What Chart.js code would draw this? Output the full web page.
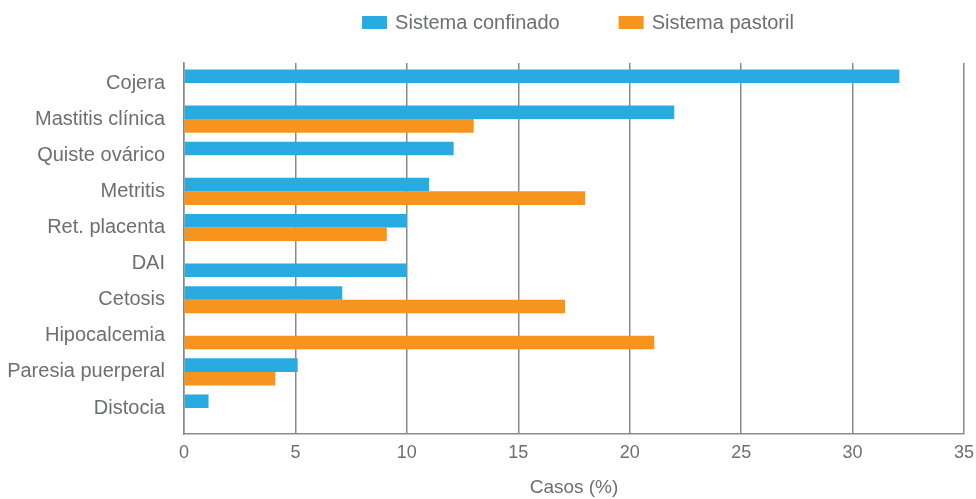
<!DOCTYPE html>
<html>
<head>
<meta charset="utf-8">
<script src="https://cdn.jsdelivr.net/npm/chart.js@4"></script>
<style>
html,body{margin:0;padding:0;background:#fff;}
#wrap{width:976px;height:499px;}
</style>
</head>
<body>
<div id="wrap"><canvas id="chart" width="976" height="499"></canvas></div>
<script>
const categories = ["Cojera","Mastitis clínica","Quiste ovárico","Metritis","Ret. placenta","DAI","Cetosis","Hipocalcemia","Paresia puerperal","Distocia"];
const confinado = [32.1, 22.0, 12.1, 11.0, 10.0, 10.0, 7.1, null, 5.1, 1.1];
const pastoril = [null, 13.0, null, 18.0, 9.1, null, 17.1, 21.1, 4.1, null];
// in the original the DAI bar of confinado sits in the lower slot
const lowerSlot = ["DAI"];
const xTicks = [0,5,10,15,20,25,30,35];

const BLUE = "#29abe2";
const ORANGE = "#f7941d";
const TEXT = "#6d6e71";
const GRID = "#8a8a8a";
const FONT = "'Liberation Sans', Arial, sans-serif";

function pts(vals, keep){
  const out = [];
  vals.forEach((v,i)=>{
    if(v !== null && keep(categories[i])) out.push({x:v, y:i});
  });
  return out;
}

const datasets = [
  {label:"Sistema confinado", data:pts(confinado, c=>!lowerSlot.includes(c)), backgroundColor:BLUE, stack:"a"},
  {label:"Sistema pastoril", data:pts(pastoril, ()=>true), backgroundColor:ORANGE, stack:"b"},
  {label:"Sistema confinado", data:pts(confinado, c=>lowerSlot.includes(c)), backgroundColor:BLUE, stack:"b", inLegend:false}
];

const topLegend = {
  id:"topLegend",
  afterDraw(chart){
    const ctx = chart.ctx;
    const items = chart.data.datasets.filter(d=>d.inLegend !== false);
    ctx.save();
    ctx.font = "20px " + FONT;
    const box = 25, gapText = 8, gapItem = 59;
    const widths = items.map(d=>box + gapText + ctx.measureText(d.label).width);
    const total = widths.reduce((a,b)=>a+b,0) + gapItem*(items.length-1);
    let x = (chart.chartArea.left + chart.chartArea.right)/2 + 4 - total/2;
    const y = 22;
    items.forEach((d,i)=>{
      ctx.fillStyle = d.backgroundColor;
      ctx.fillRect(x, y-6, box, 13);
      ctx.fillStyle = TEXT;
      ctx.textBaseline = "middle";
      ctx.fillText(d.label, x + box + gapText, y+1);
      x += widths[i] + gapItem;
    });
    ctx.restore();
  }
};

new Chart(document.getElementById("chart"), {
  type:"bar",
  data:{datasets:datasets},
  options:{
    indexAxis:"y",
    responsive:false,
    animation:false,
    categoryPercentage:0.75,
    barPercentage:1.0,
    layout:{padding:{top:63,right:12,bottom:0,left:0}},
    plugins:{legend:{display:false}, tooltip:{enabled:false}},
    scales:{
      x:{
        stacked:true,
        min:0, max:35,
        afterBuildTicks:(s)=>{ s.ticks = xTicks.map(v=>({value:v})); },
        afterFit:(s)=>{ s.height = 65; s.paddingLeft = 0; s.paddingRight = 0; },
        grid:{color:GRID, lineWidth:1.5, drawTicks:false},
        border:{display:true, color:GRID, width:1.5},
        ticks:{color:TEXT, padding:8, font:{family:FONT, size:18}},
        title:{display:true, text:"Casos (%)", color:TEXT, font:{family:FONT, size:19}, padding:{top:0,bottom:0}}
      },
      y:{
        type:"linear",
        reverse:true,
        offset:false,
        min:-0.554, max:9.72,
        bounds:"data",
        afterBuildTicks:(s)=>{ s.ticks = categories.map((_,i)=>({value:i})); },
        afterFit:(s)=>{ s.width = 184; s.paddingTop = 0; s.paddingBottom = 0; },
        grid:{display:false, offset:false},
        border:{display:true, color:GRID, width:1.5},
        ticks:{color:TEXT, padding:11, autoSkip:false, font:{family:FONT, size:20},
          callback:(v)=>categories[v]}
      }
    }
  },
  plugins:[topLegend]
});
</script>
</body>
</html>
